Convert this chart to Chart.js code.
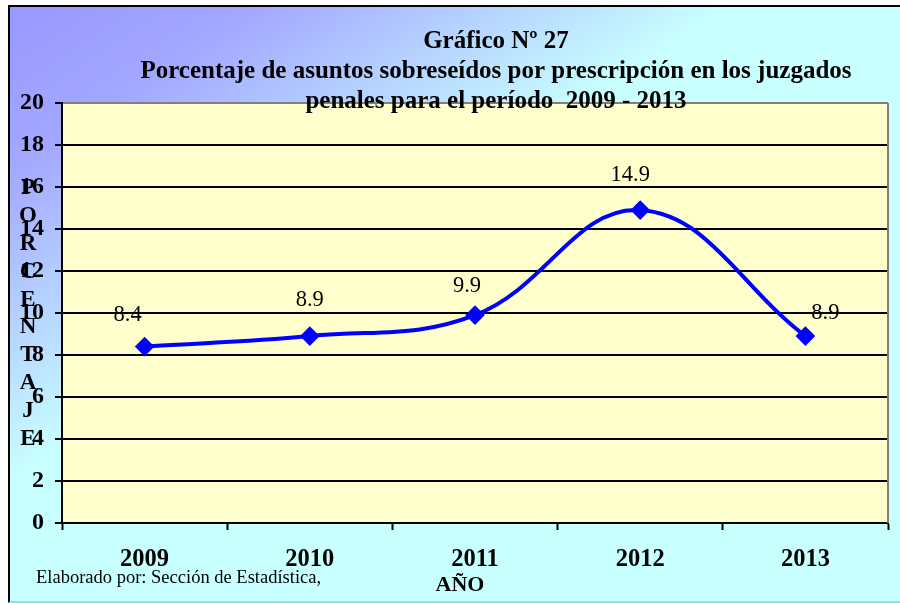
<!DOCTYPE html>
<html>
<head>
<meta charset="utf-8">
<script src="https://cdn.jsdelivr.net/npm/chart.js@4/dist/chart.umd.min.js"></script>
<style>
    body { margin: 0; background: #fff; }
    #wrap { position: relative; width: 900px; height: 603px; overflow: hidden; }
    #frame {
        position: absolute; left: 8px; top: 5px; width: 900px; height: 594px;
        border-left: 2px solid #000; border-top: 2px solid #000; border-bottom: 2px solid #9cdada;
        background: linear-gradient(to bottom right, #9898ff 0%, #a4a8ff 14%, #c8ffff 40%, #c8ffff 100%);
    }
    canvas { position: absolute; left: 0; top: 0; }
</style>
</head>
<body>
<div id="wrap">
    <div id="frame"></div>
    <canvas id="chart" width="900" height="603"></canvas>
</div>
<script>
// Chart data
const years = ['2009', '2010', '2011', '2012', '2013'];
const percentages = [8.4, 8.9, 9.9, 14.9, 8.9];
const titleLines = [
    'Gráfico Nº 27',
    'Porcentaje de asuntos sobreseídos por prescripción en los juzgados',
    'penales para el período  2009 - 2013'
];
const yAxisTitle = 'PORCENTAJE';
const xAxisTitle = 'AÑO';
const sourceNote = 'Elaborado por: Sección de Estadística,';

const serif = '"Liberation Serif", "Times New Roman", serif';

// custom drawing: plot background, borders, titles, point labels
const decorations = {
    id: 'decorations',
    beforeDraw(chart) {
        const { ctx, chartArea: a } = chart;
        ctx.save();
        ctx.fillStyle = '#ffffcc';
        ctx.fillRect(a.left, a.top, a.right - a.left, a.bottom - a.top);
        ctx.restore();
    },
    beforeDatasetsDraw(chart) {
        const { ctx, chartArea: a } = chart;
        ctx.save();
        ctx.strokeStyle = '#808080';
        ctx.lineWidth = 2;
        ctx.beginPath();
        ctx.moveTo(a.right, a.top);
        ctx.lineTo(a.right, a.bottom);
        ctx.stroke();
        ctx.restore();
    },
    afterDraw(chart, args, opts) {
        const { ctx } = chart;
        ctx.save();
        ctx.fillStyle = '#000';
        ctx.textAlign = 'center';
        ctx.textBaseline = 'middle';

        ctx.font = 'bold 25px ' + serif;
        titleLines.forEach((line, i) => ctx.fillText(line, 496, 42 + i * 30));

        // stacked vertical axis title
        ctx.font = 'bold 23px ' + serif;
        yAxisTitle.split('').forEach((ch, i) => ctx.fillText(ch, 28, 188 + i * 27.9));

        ctx.font = 'bold 22px ' + serif;
        ctx.fillText(xAxisTitle, 460, 585);

        ctx.textAlign = 'left';
        ctx.font = '18.5px ' + serif;
        ctx.fillText(sourceNote, 36, 578);

        // value labels
        ctx.textAlign = 'center';
        ctx.font = '22.5px ' + serif;
        const meta = chart.getDatasetMeta(0);
        meta.data.forEach((pt, i) => {
            const [dx, dy] = opts.shift[i];
            ctx.fillText(percentages[i].toFixed(1), pt.x + dx, pt.y + dy);
        });
        ctx.restore();
    }
};

new Chart(document.getElementById('chart'), {
    type: 'line',
    data: {
        labels: years,
        datasets: [{
            data: percentages,
            borderColor: '#0000ff',
            backgroundColor: '#0000ff',
            borderWidth: 4,
            tension: 0.4,
            pointStyle: 'rectRot',
            pointRadius: 7,
            pointBackgroundColor: '#0000ff',
            pointBorderColor: '#0000ff',
            clip: false
        }]
    },
    options: {
        responsive: false,
        animation: false,
        layout: { padding: { top: 103, right: 12, left: 0, bottom: 0 } },
        plugins: {
            legend: { display: false },
            tooltip: { enabled: false },
            decorations: { shift: [[-17, -32], [0, -36], [-8, -29], [-10, -35], [20, -23]] }
        },
        scales: {
            x: {
                offset: true,
                grid: {
                    offset: true,
                    drawOnChartArea: false,
                    tickLength: 7,
                    tickColor: '#000',
                    tickWidth: 2
                },
                border: { color: '#000', width: 2 },
                ticks: {
                    color: '#000',
                    padding: 15,
                    font: { family: serif, size: 24.5, weight: 'bold' }
                },
                afterFit: scale => { scale.height = 80; }
            },
            y: {
                min: 0,
                max: 20,
                grid: {
                    color: c => c.tick && c.tick.value === 20 ? '#808080' : '#000',
                    lineWidth: 2,
                    tickLength: 7,
                    tickColor: '#000',
                    tickWidth: 2
                },
                border: { color: '#000', width: 2 },
                ticks: {
                    stepSize: 2,
                    color: '#000',
                    padding: 11,
                    font: { family: serif, size: 24, weight: 'bold' }
                },
                afterFit: scale => { scale.width = 62; }
            }
        }
    },
    plugins: [decorations]
});
</script>
</body>
</html>
